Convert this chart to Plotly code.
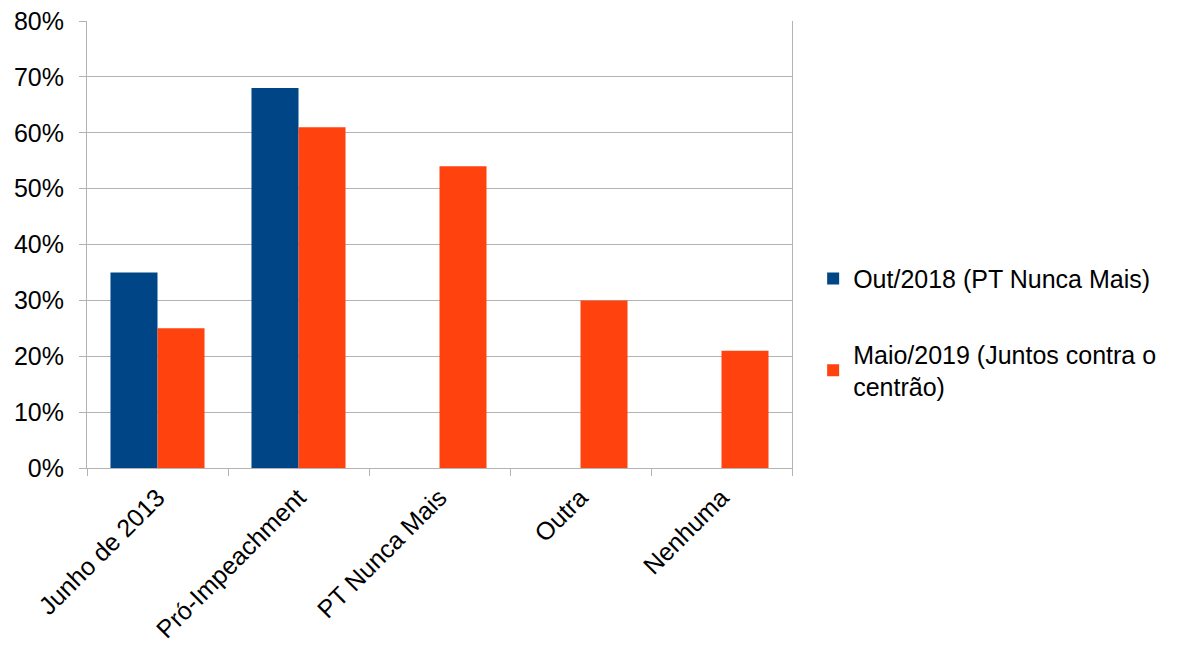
import plotly.graph_objects as go

categories = ["Junho de 2013", "Pró-Impeachment", "PT Nunca Mais", "Outra", "Nenhuma"]
series1_name = "Out/2018 (PT Nunca Mais)"
series1_values = [0.35, 0.68, None, None, None]
series2_name = "Maio/2019 (Juntos contra o<br>centrão)"
series2_values = [0.25, 0.61, 0.54, 0.30, 0.21]
y_ticks = [0, 0.1, 0.2, 0.3, 0.4, 0.5, 0.6, 0.7, 0.8]

fig = go.Figure()
fig.add_trace(go.Bar(x=categories, y=series1_values, name=series1_name,
                     marker=dict(color="#004586", line=dict(width=0)), legendgroup="a"))
fig.add_trace(go.Bar(x=categories, y=series2_values, name=series2_name,
                     marker=dict(color="#ff420e", line=dict(width=0)), legendgroup="b"))

fig.update_layout(
    width=1185, height=652,
    margin=dict(l=79, r=401, t=13, b=192),
    paper_bgcolor="white", plot_bgcolor="white",
    font=dict(family="Liberation Sans, Arial, sans-serif", size=25, color="black"),
    barmode="group", bargap=0.333, bargroupgap=0,
    showlegend=True,
    legend=dict(x=1.03, xanchor="left", y=0.475, yanchor="top",
                font=dict(size=25), tracegroupgap=40, traceorder="grouped",
                bgcolor="rgba(0,0,0,0)"),
    xaxis=dict(tickangle=-45, showline=True, linecolor="#b3b3b3", linewidth=1,
               ticks="outside", tickson="boundaries", ticklen=7, tickcolor="#b3b3b3",
               showgrid=False, tickfont=dict(size=25), automargin=False,
               ticklabeloverflow="allow", ticklabelstandoff=4),
    yaxis=dict(range=[0, 0.8], tickvals=y_ticks, tickformat=".0%",
               showline=True, linecolor="#b3b3b3", linewidth=1, mirror=True,
               ticks="outside", ticklen=7, tickcolor="#b3b3b3",
               showgrid=True, gridcolor="#b3b3b3", gridwidth=1,
               zeroline=False, tickfont=dict(size=25), automargin=False,
               ticklabeloverflow="allow", ticklabelstandoff=10),
)

fig.write_html("out.html")
